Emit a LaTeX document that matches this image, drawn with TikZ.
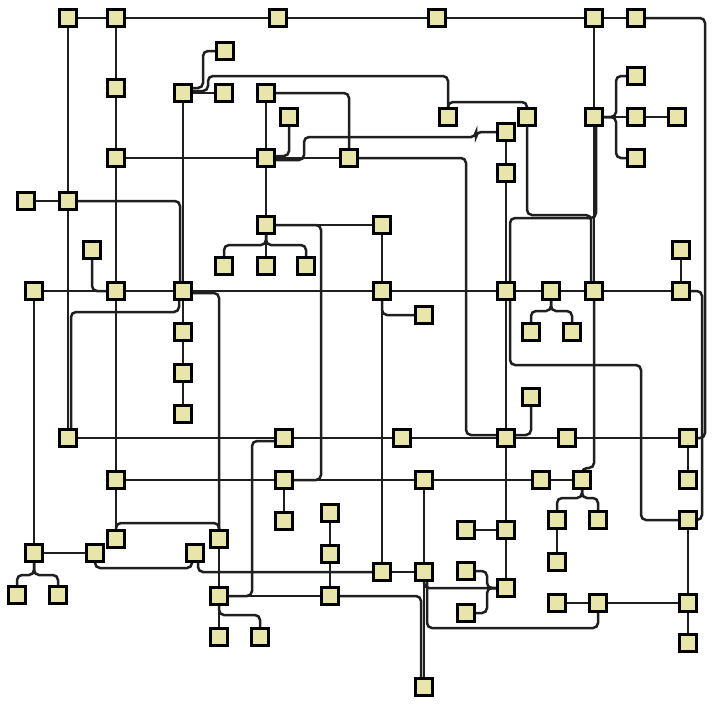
\documentclass[tikz,border=0pt]{standalone}
\pgfdeclarelayer{edges}
\pgfsetlayers{edges,main}
\definecolor{boxfill}{RGB}{231,229,170}
\tikzset{
  box/.style={draw=black, line width=2.8pt, fill=boxfill, minimum size=17.5pt, inner sep=0pt, outer sep=0pt},
  wire/.style={draw=black!88, line width=2.5pt, rounded corners=5pt}
}
\begin{document}
\begin{tikzpicture}[x=1pt,y=-1pt]
\useasboundingbox (0,0) rectangle (714,705);
% nodes
\node[box] (a1) at (68,18) {};
\node[box] (a2) at (116,18) {};
\node[box] (a3) at (278,18) {};
\node[box] (a4) at (437,18) {};
\node[box] (a5) at (594,18) {};
\node[box] (a6) at (636,18) {};
\node[box] (b1) at (225,51) {};
\node[box] (c1) at (116,88) {};
\node[box] (c2) at (183,93) {};
\node[box] (c3) at (224,93) {};
\node[box] (c4) at (266,93) {};
\node[box] (d1) at (289,117) {};
\node[box] (e1) at (636,76) {};
\node[box] (f1) at (448,117) {};
\node[box] (f2) at (527,117) {};
\node[box] (f3) at (506,132) {};
\node[box] (f4) at (594,117) {};
\node[box] (f5) at (636,117) {};
\node[box] (f6) at (677,117) {};
\node[box] (g1) at (116,158) {};
\node[box] (g2) at (266,158) {};
\node[box] (g3) at (349,158) {};
\node[box] (g4) at (636,158) {};
\node[box] (h1) at (506,173) {};
\node[box] (i1) at (26,201) {};
\node[box] (i2) at (68,201) {};
\node[box] (j1) at (266,225) {};
\node[box] (j2) at (382,225) {};
\node[box] (k1) at (92,250) {};
\node[box] (k2) at (681,250) {};
\node[box] (l1) at (224,266) {};
\node[box] (l2) at (266,266) {};
\node[box] (l3) at (306,266) {};
\node[box] (m1) at (34,291) {};
\node[box] (m2) at (116,291) {};
\node[box] (m3) at (183,291) {};
\node[box] (m4) at (382,291) {};
\node[box] (m5) at (506,291) {};
\node[box] (m6) at (551,291) {};
\node[box] (m7) at (594,291) {};
\node[box] (m8) at (681,291) {};
\node[box] (n1) at (424,315) {};
\node[box] (o1) at (531,332) {};
\node[box] (o2) at (572,332) {};
\node[box] (o3) at (183,332) {};
\node[box] (p1) at (183,373) {};
\node[box] (q1) at (183,414) {};
\node[box] (q2) at (531,397) {};
\node[box] (r1) at (68,438) {};
\node[box] (r2) at (284,438) {};
\node[box] (r3) at (402,438) {};
\node[box] (r4) at (506,438) {};
\node[box] (r5) at (567,438) {};
\node[box] (r6) at (688,438) {};
\node[box] (s1) at (116,480) {};
\node[box] (s2) at (284,480) {};
\node[box] (s3) at (424,480) {};
\node[box] (s4) at (541,480) {};
\node[box] (s5) at (582,480) {};
\node[box] (s6) at (688,480) {};
\node[box] (t1) at (284,521) {};
\node[box] (t2) at (330,513) {};
\node[box] (t3) at (466,530) {};
\node[box] (t4) at (506,530) {};
\node[box] (t5) at (557,520) {};
\node[box] (t6) at (598,520) {};
\node[box] (t7) at (688,520) {};
\node[box] (u1) at (34,553) {};
\node[box] (u3) at (116,539) {};
\node[box] (u2) at (95,553) {};
\node[box] (u4) at (195,553) {};
\node[box] (u5) at (219,539) {};
\node[box] (u6) at (330,554) {};
\node[box] (u7) at (557,562) {};
\node[box] (v1) at (17,595) {};
\node[box] (v2) at (58,595) {};
\node[box] (v3) at (382,572) {};
\node[box] (v4) at (424,572) {};
\node[box] (v5) at (466,571) {};
\node[box] (v6) at (506,588) {};
\node[box] (w1) at (219,596) {};
\node[box] (w2) at (330,596) {};
\node[box] (w3) at (466,613) {};
\node[box] (w4) at (557,603) {};
\node[box] (w5) at (598,603) {};
\node[box] (w6) at (688,603) {};
\node[box] (x1) at (219,637) {};
\node[box] (x2) at (260,637) {};
\node[box] (x3) at (688,643) {};
\node[box] (x4) at (424,687) {};
\begin{pgfonlayer}{edges}
\foreach \p/\q in {a1/a2,a2/a3,a3/a4,a4/a5,a5/a6,a1/i2,i2/r1,i1/i2,
  a2/c1,c1/g1,g1/m2,m2/s1,s1/u3,c2/c3,c2/m3,c4/g2,g2/j1,g1/g2,g2/g3,
  a5/f4,f4/f5,f5/f6,f4/m7,f3/h1,h1/m5,j1/j2,j2/m4,m4/v3,j1/l2,k2/m8,
  m1/m2,m2/m3,m3/m4,m4/m5,m5/m6,m6/m7,m7/m8,m3/o3,o3/p1,p1/q1,m5/r4,
  r1/r2,r2/r3,r3/r4,r4/r5,r5/r6,r6/s6,s1/s2,s2/s3,s3/s4,s4/s5,s2/t1,s3/v4,
  t3/t4,r4/t4,t4/v6,t5/u7,t2/u6,u6/w2,m1/u1,u1/u2,v3/v4,u5/w1,w1/x1,w1/w2,
  w4/w5,w5/w6,t7/w6,w6/x3,v4/x4}
  \draw[wire] (\p.center) -- (\q.center);
\draw[wire] (a6.center) -- (705,18) -- (705,438) -- (r6.center);
\draw[wire] (m8.center) -- (702,291) -- (702,520) -- (t7.center);
\draw[wire] (i2.center) -- (180,201) -- (180,291) -- (m3.center);
\draw[wire] (m3.center) ++(-4,0) -- (179,312) -- (71,312) -- (71,438) -- (r1.center);
\draw[wire] (c2.center) ++(0,-5) -- (203,88) -- (203,51) -- (b1.center);
\draw[wire] (c2.center) ++(0,-2) -- (208,91) -- (208,76) -- (448,76) -- (f1.center);
\draw[wire] (c4.center) -- (349,93) -- (g3.center);
\draw[wire] (g2.center) ++(0,-2) -- (289,156) -- (d1.center);
\draw[wire] (g2.center) ++(0,2) -- (304,160) -- (304,137) -- (476,137) -- (476,132) -- (f3.center);
\draw[wire] (f1.center) -- (448,102) -- (527,102) -- (f2.center);
\draw[wire] (f2.center) -- (527,215) -- (591,215) -- (591,291) -- (m7.center);
\draw[wire] (f4.center) ++(2,0) -- (596,218) -- (510,218) -- (510,365) -- (641,365) -- (641,520) -- (t7.center);
\draw[wire] (f4.center) -- (616,117) -- (616,76) -- (e1.center);
\draw[wire] (f4.center) -- (616,117) -- (616,158) -- (g4.center);
\draw[wire] (j1.center) -- (266,245) -- (224,245) -- (l1.center);
\draw[wire] (j1.center) -- (266,245) -- (306,245) -- (l3.center);
\draw[wire] (j1.center) -- (321,225) -- (321,480) -- (s2.center);
\draw[wire] (k1.center) -- (92,291) -- (m2.center);
\draw[wire] (m3.center) ++(0,2) -- (219,293) -- (u5.center);
\draw[wire] (m4.center) |- (n1.center);
\draw[wire] (m6.center) -- (551,311) -- (531,311) -- (o1.center);
\draw[wire] (m6.center) -- (551,311) -- (572,311) -- (o2.center);
\draw[wire] (r4.center) ++(0,-3) -- (466,435) -- (466,158) -- (g3.center);
\draw[wire] (r4.center) ++(0,-3) -- (531,435) -- (q2.center);
\draw[wire] (m7.center) -- (594,468) -- (582,468) -- (s5.center);
\draw[wire] (r2.center) ++(0,3) -- (252,441) -- (252,596) -- (w1.center);
\draw[wire] (u2.center) -- (95,568) -- (192,568) -- (192,553) -- (u4.center);
\draw[wire] (u4.center) ++(3,0) -- (198,572) -- (v3.center);
\draw[wire] (u3.center) -- (116,523) -- (219,523) -- (u5.center);
\draw[wire] (u1.center) -- (34,575) -- (17,575) -- (v1.center);
\draw[wire] (u1.center) -- (34,575) -- (58,575) -- (v2.center);
\draw[wire] (w1.center) -- (219,615) -- (260,615) -- (x2.center);
\draw[wire] (w2.center) -- (421,596) -- (421,687) -- (x4.center);
\draw[wire] (v4.center) -- (424,588) -- (v6.center);
\draw[wire] (v5.center) -- (487,571) -- (487,588) -- (v6.center);
\draw[wire] (w3.center) -- (487,613) -- (487,588) -- (v6.center);
\draw[wire] (w5.center) -- (598,628) -- (427,628) -- (427,572) -- (v4.center);
\draw[wire] (s5.center) -- (582,498) -- (557,498) -- (t5.center);
\draw[wire] (s5.center) -- (582,498) -- (598,498) -- (t6.center);
\end{pgfonlayer}
\end{tikzpicture}
\end{document}
